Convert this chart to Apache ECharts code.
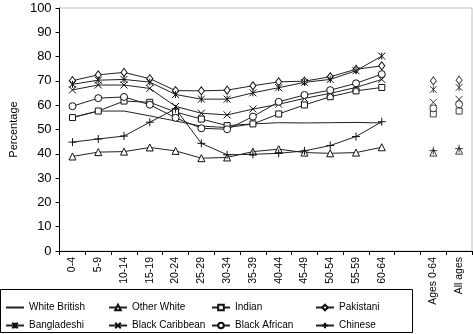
<!DOCTYPE html>
<html><head><meta charset="utf-8">
<script src="https://cdn.jsdelivr.net/npm/echarts@6/dist/echarts.min.js"></script>
<style>html,body{margin:0;padding:0;background:#fff}#c{width:473px;height:334px}</style>
</head><body><div id="c"></div>
<script>
const ageGroups = ['0-4','5-9','10-14','15-19','20-24','25-29','30-34','35-39','40-44','45-49','50-54','55-59','60-64'];
const summaryLabels = ['Ages 0-64','All ages'];
const yTicks = [0,10,20,30,40,50,60,70,80,90,100];

const whiteBritish   = [55.0, 57.6, 57.6, 55.6, 53.5, 51.4, 50.8, 52.3, 52.8, 52.7, 52.8, 52.9, 52.7];
const otherWhite     = [38.9, 40.7, 40.9, 42.6, 41.2, 38.2, 38.5, 40.9, 41.9, 40.5, 40.2, 40.5, 42.7];
const indian         = [54.9, 57.6, 61.7, 61.2, 57.2, 54.3, 51.6, 52.3, 56.4, 60.1, 63.5, 65.9, 67.3];
const pakistani      = [70.1, 72.5, 73.5, 70.9, 66.0, 65.9, 66.2, 68.0, 69.6, 69.9, 71.7, 74.8, 76.2];
const bangladeshi    = [68.6, 70.3, 70.6, 69.5, 64.4, 62.5, 62.5, 65.1, 67.2, 69.4, 70.6, 74.2, 80.2];
const blackCaribbean = [66.3, 68.3, 68.3, 66.9, 59.5, 56.7, 56.0, 58.4, 60.4, 62.8, 64.9, 67.3, 70.6];
const blackAfrican   = [59.6, 62.9, 63.4, 60.2, 54.8, 50.5, 50.1, 55.3, 61.4, 64.2, 66.2, 69.0, 72.8];
const chinese        = [44.8, 46.1, 47.3, 53.0, 58.5, 44.3, 39.6, 39.8, 40.2, 41.2, 43.4, 47.1, 53.2];

const otherWhiteSummary     = [40.5, 41.3];
const indianSummary         = [56.4, 57.6];
const pakistaniSummary      = [70.0, 70.3];
const bangladeshiSummary    = [66.5, 67.3];
const blackCaribbeanSummary = [61.2, 62.4];
const blackAfricanSummary   = [58.7, 60.4];
const chineseSummary        = [41.3, 42.1];

const categories = ageGroups.concat([''], summaryLabels);

const SYM = {
  none: 'none',
  tri: 'triangle',
  sq: 'rect',
  dia: 'diamond',
  ast: 'path://M0,0L10,10M10,0L0,10M5,0L5,10',
  x: 'path://M0,0L10,10M10,0L0,10',
  circ: 'circle',
  plus: 'path://M5,0L5,10M0,5L10,5'
};
const groups = [
  {name:'White British', data: whiteBritish, sym: SYM.none, size: 0, summary: null},
  {name:'Other White', data: otherWhite, sym: SYM.tri, size: 7, summary: otherWhiteSummary},
  {name:'Indian', data: indian, sym: SYM.sq, size: 6, summary: indianSummary},
  {name:'Pakistani', data: pakistani, sym: SYM.dia, size: [6,8], summary: pakistaniSummary},
  {name:'Bangladeshi', data: bangladeshi, sym: SYM.ast, size: 7, summary: bangladeshiSummary},
  {name:'Black Caribbean', data: blackCaribbean, sym: SYM.x, size: 7, summary: blackCaribbeanSummary},
  {name:'Black African', data: blackAfrican, sym: SYM.circ, size: 7, summary: blackAfricanSummary},
  {name:'Chinese', data: chinese, sym: SYM.plus, size: 8, summary: chineseSummary}
];
const FONT = 'Liberation Sans, Arial, sans-serif';
const itemStyle = {color:'#fff', borderColor:'#111', borderWidth:1};
const series = [];
groups.forEach(g => {
  series.push({
    name: g.name, type: 'line', data: g.data.slice(),
    symbol: g.sym, symbolSize: g.size, showSymbol: g.sym !== 'none',
    lineStyle: {color:'#222', width:1}, itemStyle: itemStyle,
    animation: false, z: 3
  });
  if (g.summary) {
    series.push({
      name: g.name + ' summary', type: 'scatter',
      data: summaryLabels.map((l,i) => [l, g.summary[i]]),
      symbol: g.sym, symbolSize: g.size, itemStyle: itemStyle,
      animation: false, z: 3
    });
  }
});
const legendX = [5, 108, 211, 315];
const legendY = [302.5, 320.5];
const legends = groups.map((g,i) => {
  const lg = {
    data: [g.name], left: legendX[i % 4], top: legendY[Math.floor(i/4)],
    padding: 0, itemWidth: 18, itemHeight: 7, itemGap: 5, selectedMode: false,
    textStyle: {fontSize: 10, color:'#000', fontFamily: FONT}
  };
  if (g.sym === 'none') {
    lg.itemStyle = {color:'rgba(0,0,0,0)', borderColor:'rgba(0,0,0,0)', borderWidth:0};
  }
  return lg;
});
const chart = echarts.init(document.getElementById('c'), null, {renderer:'canvas'});
chart.setOption({
  animation: false,
  backgroundColor: '#fff',
  grid: {left: 52, right: 1, top: 8, bottom: 83, show: true, borderColor:'#bdbdbd', borderWidth:1, containLabel:false},
  xAxis: {
    type:'category', data: categories, boundaryGap: true,
    axisLine: {lineStyle:{color:'#000', width:1}},
    axisTick: {show:true, length:4, inside:false, lineStyle:{color:'#000'}, interval:0},
    axisLabel: {rotate:90, interval:0, fontSize:10.5, color:'#000', fontFamily:FONT, margin:6},
    splitLine: {show:false}
  },
  yAxis: {
    type:'value', min: yTicks[0], max: yTicks[yTicks.length-1], interval: 10,
    name: 'Percentage', nameLocation:'middle', nameGap: 37,
    nameTextStyle: {fontSize: 11, color:'#000', fontFamily: FONT},
    axisLine: {show:true, lineStyle:{color:'#000', width:1}},
    axisTick: {show:true, length:4, lineStyle:{color:'#000'}},
    axisLabel: {fontSize: 13, color:'#000', fontFamily: FONT, margin: 8},
    splitLine: {show:false}
  },
  legend: legends,
  graphic: [{type:'rect', shape:{x:0.5, y:289.5, width:412, height:43}, style:{fill:'none', stroke:'#000', lineWidth:1}, z:-1}],
  series: series
});
</script></body></html>
